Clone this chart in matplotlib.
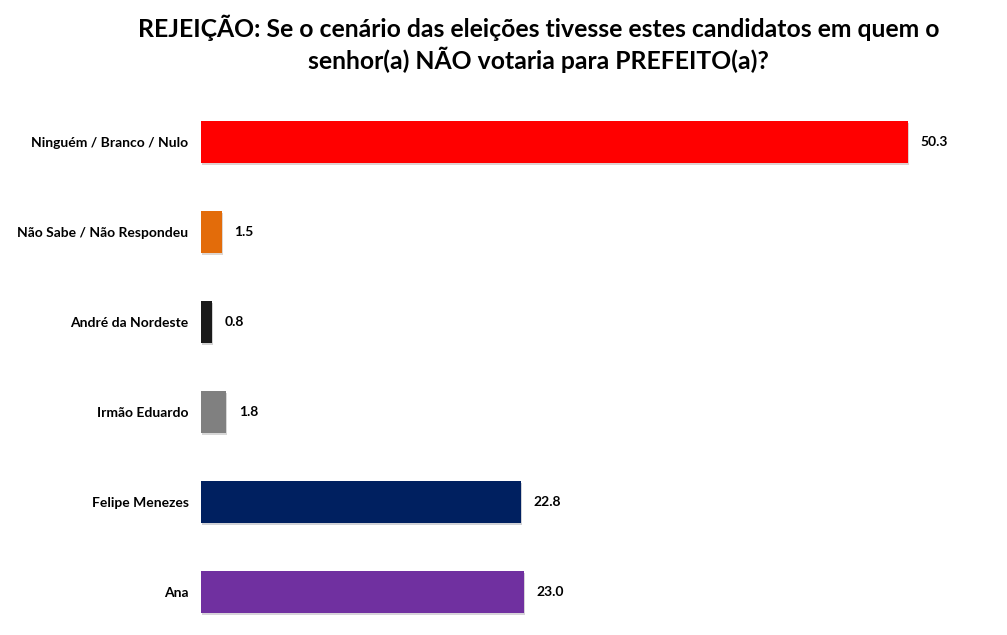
import matplotlib
matplotlib.use("Agg")
import matplotlib.pyplot as plt
import matplotlib.patheffects as pe

plt.rcParams['font.family'] = ['Lato', 'DejaVu Sans']

categories = ["Ninguém / Branco / Nulo", "Não Sabe / Não Respondeu",
              "André da Nordeste", "Irmão Eduardo", "Felipe Menezes", "Ana"]
values = [50.3, 1.5, 0.8, 1.8, 22.8, 23.0]
colors = ["#FF0000", "#E36C0A", "#1A1A1A", "#808080", "#002060", "#7030A0"]
title = ("REJEIÇÃO: Se o cenário das eleições tivesse estes candidatos em quem o\n"
         "senhor(a) NÃO votaria para PREFEITO(a)?")

fig = plt.figure(figsize=(10.07, 6.35), dpi=100)
ax = fig.add_axes([201 / 1007, 0.004, 773 / 1007, 0.843])

pos = list(range(len(categories)))
bars = ax.barh(pos, values, height=0.47, color=colors)
for b in bars:
    b.set_path_effects([pe.SimplePatchShadow(offset=(0.5, -1.5), alpha=0.18),
                        pe.Normal()])

for y, v in zip(pos, values):
    ax.annotate(f"{v:.1f}", xy=(v, y), xytext=(9, 0), textcoords="offset points",
                va="center", ha="left", fontsize=10, fontweight="bold")

ax.set_xlim(0, 55)
ax.set_ylim(5.45, -0.5)
ax.set_yticks(pos)
ax.set_yticklabels(categories, fontsize=10, fontweight="bold")
ax.tick_params(axis="y", length=0, pad=9)
ax.set_xticks([])
for s in ax.spines.values():
    s.set_visible(False)

fig.text(0.535, 0.977, title, ha="center", va="top", fontsize=17.8,
         fontweight="bold", linespacing=1.25)

fig.savefig("out.png", dpi=100)
